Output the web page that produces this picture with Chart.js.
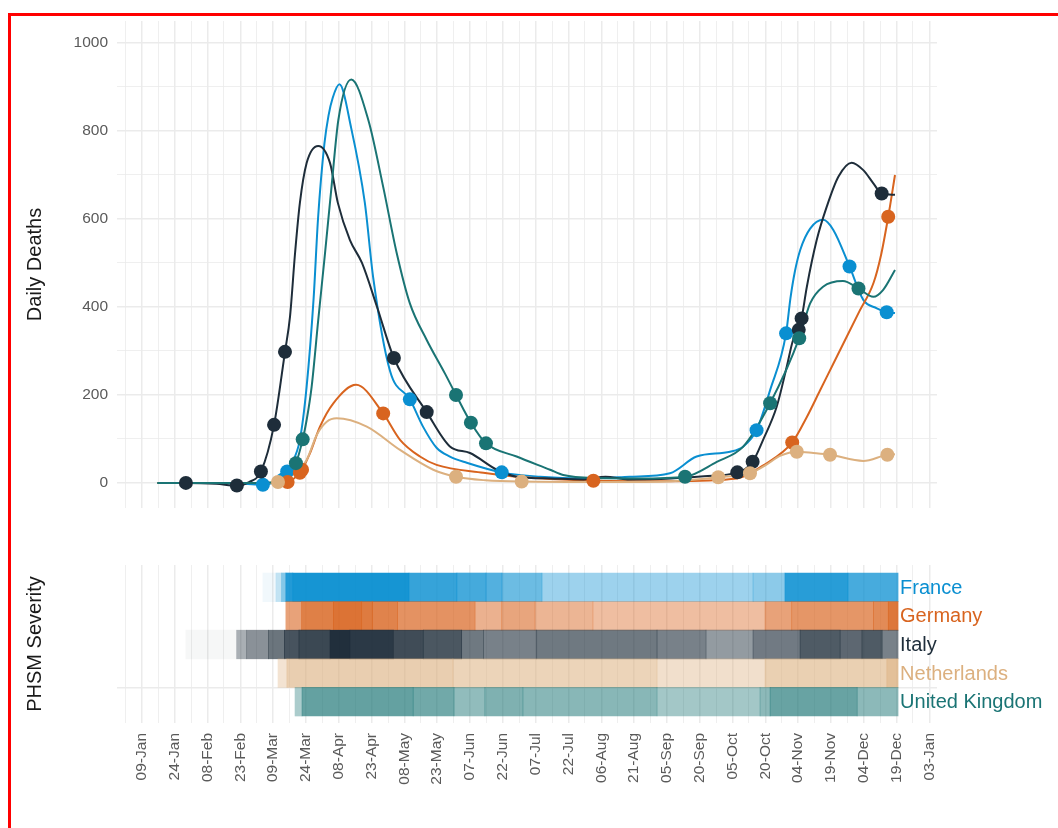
<!DOCTYPE html>
<html>
<head>
<meta charset="utf-8">
<script src="https://cdn.jsdelivr.net/npm/chart.js@4.4.0/dist/chart.umd.min.js"></script>
<style>
    body { margin: 0; background: #fff; overflow: hidden; }
    #frame { position: absolute; left: 8px; top: 13px; width: 1200px; height: 1000px; border: 3px solid #ff0000; box-sizing: border-box; }
    canvas { position: absolute; left: 0; }
</style>
</head>
<body>
<div id="frame"></div>
<canvas id="deathsChart" width="1058" height="540" style="top:0"></canvas>
<canvas id="phsmChart" width="1058" height="288" style="top:540px"></canvas>
<script>
// days are counted from 01-Jan-2020 (= day 0)
const countries = ['France', 'Germany', 'Italy', 'Netherlands', 'United Kingdom'];
const countryColors = ['#0a8fd1', '#d8641f', '#1e2d3a', '#dcb07f', '#1a7474'];
const rowValues = [5, 4, 3, 2, 1];

const tickLabels = ['09-Jan', '24-Jan', '08-Feb', '23-Feb', '09-Mar', '24-Mar', '08-Apr', '23-Apr',
    '08-May', '23-May', '07-Jun', '22-Jun', '07-Jul', '22-Jul', '06-Aug', '21-Aug', '05-Sep',
    '20-Sep', '05-Oct', '20-Oct', '04-Nov', '19-Nov', '04-Dec', '19-Dec', '03-Jan'];
const tickDays = tickLabels.map((l, i) => 8 + 15 * i);
const deathTicks = [0, 100, 200, 300, 400, 500, 600, 700, 800, 900, 1000];

// smoothed daily deaths
const franceDays = [15, 40, 55, 63.3, 68, 72.5, 74.4, 76, 80.2, 83.3, 86.5, 88.5, 91.4, 93.3, 95.2, 98.3, 103.7, 109.9, 113.7, 121.4, 130.5, 136.5, 142.7, 148.8, 156.5, 172.5, 190, 210, 231, 249.4, 261.6, 276.9, 283, 289, 295.2, 302.5, 304.5, 306.5, 309, 313.5, 319.5, 324.1, 331.5, 337.8, 344, 348.5, 352.3];
const franceDeaths = [0, 0, -2, -4, 0, 8, 26, 40, 98, 219, 420, 600, 770, 835, 875, 906, 806, 637, 468, 255, 190, 128, 80, 60, 46, 24, 14, 10, 14, 22, 60, 71, 83, 120, 211, 340, 420, 480, 530, 578, 598, 575, 492, 416, 397, 388, 386];

const germanyDays = [15, 65, 74.6, 80.2, 81.2, 84.8, 89.4, 95.5, 105.9, 118.3, 126, 135.1, 142.7, 164.1, 179.3, 214.4, 250, 280, 292.1, 305.3, 312, 318, 324.2, 330, 336, 342.5, 346, 349.2, 352.3];
const germanyDeaths = [0, 0, 2, 23, 30, 67, 128, 181, 223, 158, 98, 60, 41, 23, 14, 5, 4, 10, 40, 92, 150, 210, 272, 330, 390, 455, 520, 605, 700];

const italyDays = [15, 28.1, 42, 51.4, 57, 62.4, 68.4, 73.4, 75.7, 78, 80.2, 83.3, 88.6, 94, 97.6, 103.1, 108.6, 115.5, 123.2, 138.2, 148.8, 158, 170.3, 179.5, 195, 210, 220, 230, 250, 265, 280.2, 287.2, 292, 298.2, 302.8, 305.7, 308.3, 309.6, 312, 316.5, 321.1, 326.4, 332.5, 337.8, 342.4, 346.2, 352.3];
const italyDeaths = [0, 0, -2, -6, 2, 26, 132, 298, 378, 522, 636, 727, 766, 727, 636, 552, 500, 400, 284, 161, 83, 68, 30, 14, 10, 8, 14, 8, 10, 15, 24, 48, 98, 173, 264, 325, 348, 374, 446, 552, 628, 696, 728, 711, 681, 658, 655];

const netherlandsDays = [15, 62, 70.2, 76, 83.3, 87.9, 92.5, 97, 110.8, 126, 141.2, 151.6, 165, 181.6, 220, 250, 271.5, 286, 293, 300, 307.4, 315, 322.6, 337.8, 348.8, 352.3];
const netherlandsDeaths = [0, 0, 2, 15, 52, 109, 139, 147, 128, 75, 30, 14, 6, 3, 2, 4, 13, 22, 40, 62, 71, 68, 64, 50, 64, 65];

const ukDays = [15, 60, 72, 78.4, 81.5, 83.3, 85.6, 88.6, 91.7, 94.7, 97.8, 103.7, 111.5, 118.3, 124.5, 130.5, 138.2, 146.5, 151.6, 158.4, 165.3, 179.3, 194.6, 200.6, 215.9, 235, 256.3, 270.8, 283, 295.2, 308.5, 313.5, 319.4, 328.5, 335.6, 342.4, 346.9, 352.3];
const ukDeaths = [0, 0, 5, 45, 99, 143, 219, 370, 522, 674, 825, 917, 825, 673, 522, 408, 325, 249, 200, 137, 90, 60, 30, 18, 11, 10, 14, 48, 83, 181, 329, 408, 446, 459, 442, 423, 439, 484];

// dates where the PHSM level changed (dots)
const francePointDays = [63.3, 72.5, 74.4, 130.5, 172.5, 289, 302.5, 331.5, 348.5];
const francePointDeaths = [-4, 8, 26, 190, 24, 120, 340, 492, 388];
const germanyPointDays = [74.6, 80.2, 81.2, 118.3, 214.4, 305.3, 349.2];
const germanyPointDeaths = [2, 23, 30, 158, 5, 92, 605];
const italyPointDays = [28.1, 51.4, 62.4, 68.4, 73.4, 123.2, 138.2, 280.2, 287.2, 308.3, 309.6, 346.2];
const italyPointDeaths = [0, -6, 26, 132, 298, 284, 161, 24, 48, 348, 374, 658];
const netherlandsPointDays = [70.2, 151.6, 181.6, 271.5, 286, 307.4, 322.6, 348.8];
const netherlandsPointDeaths = [2, 14, 3, 13, 22, 71, 64, 64];
const ukPointDays = [78.4, 81.5, 151.6, 158.4, 165.3, 256.3, 295.2, 308.5, 335.6];
const ukPointDeaths = [45, 99, 200, 137, 90, 14, 181, 329, 442];

// PHSM severity (0..1), each value holds from its start day to the next one
const phsmEnd = 353.7;
const franceSevStart = [63.3, 69.3, 71.9, 73.8, 77, 130.1, 152, 165.3, 172.6, 190.9, 287.4, 302, 330.8];
const franceSeverity = [0.06, 0.25, 0.5, 0.9, 0.95, 0.82, 0.76, 0.7, 0.6, 0.4, 0.47, 0.88, 0.75];
const germanySevStart = [73.8, 81, 95.5, 108.5, 113.5, 124.9, 160.3, 172.5, 187.7, 214.2, 292.9, 305.1, 342.4, 349.2];
const germanySeverity = [0.6, 0.82, 0.9, 0.85, 0.8, 0.7, 0.5, 0.58, 0.48, 0.42, 0.6, 0.68, 0.75, 0.88];
const italySevStart = [28.1, 51.3, 55.9, 65.8, 73.1, 79.8, 94, 103.1, 122.9, 136.6, 154.2, 164.1, 188.5, 243.5, 265.9, 287.4, 308.9, 327.2, 337.2, 346.4];
const italySeverity = [0.04, 0.38, 0.52, 0.66, 0.82, 0.87, 0.99, 0.94, 0.85, 0.8, 0.64, 0.6, 0.64, 0.6, 0.48, 0.63, 0.78, 0.72, 0.78, 0.6];
const netherlandsSevStart = [70.2, 74.3, 150.2, 243.5, 292.9, 348.6];
const netherlandsSeverity = [0.35, 0.62, 0.55, 0.4, 0.6, 0.8];
const ukSevStart = [78, 81.2, 132, 150.7, 164.8, 182.2, 243.5, 290.6, 295.2, 335];
const ukSeverity = [0.37, 0.68, 0.62, 0.48, 0.56, 0.52, 0.4, 0.5, 0.66, 0.5];

const xMin = -3.4, xMax = 371.5;
const gridDays = [];
for (let d = 0.5; d <= 368; d += 7.5) gridDays.push(d);

Chart.defaults.font.family = '"Liberation Sans", Arial, sans-serif';
Chart.defaults.animation = false;

function isMajor(v) {
    return tickDays.indexOf(v) >= 0;
}

function rgba(hex, a) {
    const n = parseInt(hex.slice(1), 16);
    return `rgba(${(n >> 16) & 255}, ${(n >> 8) & 255}, ${n & 255}, ${a})`;
}

function toXY(days, values) {
    return days.map((d, i) => ({ x: d, y: values[i] }));
}

const xGrid = {
    color: '#ebebeb',
    lineWidth: c => (c.tick && isMajor(c.tick.value)) ? 1.5 : 0.8,
    drawTicks: false
};

// ---------- top panel: daily deaths ----------
const lineSeries = [
    [franceDays, franceDeaths, francePointDays, francePointDeaths],
    [germanyDays, germanyDeaths, germanyPointDays, germanyPointDeaths],
    [italyDays, italyDeaths, italyPointDays, italyPointDeaths],
    [netherlandsDays, netherlandsDeaths, netherlandsPointDays, netherlandsPointDeaths],
    [ukDays, ukDeaths, ukPointDays, ukPointDeaths]
];

const deathDatasets = [];
lineSeries.forEach((s, i) => {
    deathDatasets.push({
        type: 'line',
        label: countries[i],
        data: toXY(s[0], s[1]),
        borderColor: countryColors[i],
        borderWidth: 2,
        pointRadius: 0,
        cubicInterpolationMode: 'monotone',
        fill: false,
        order: 20 - i
    });
    deathDatasets.push({
        type: 'line',
        label: countries[i] + ' PHSM',
        data: toXY(s[2], s[3]),
        showLine: false,
        pointRadius: 7,
        pointBorderWidth: 0,
        pointBackgroundColor: countryColors[i],
        order: 10 - i
    });
});

new Chart(document.getElementById('deathsChart'), {
    type: 'line',
    data: { datasets: deathDatasets },
    options: {
        responsive: false,
        events: [],
        layout: { padding: { top: 21, right: 121, bottom: 32, left: 0 } },
        plugins: { legend: { display: false }, tooltip: { enabled: false } },
        scales: {
            x: {
                type: 'linear', min: xMin, max: xMax,
                afterBuildTicks: s => { s.ticks = gridDays.map(v => ({ value: v })); },
                ticks: { display: false },
                grid: xGrid,
                border: { display: false },
                afterFit: s => { s.height = 0; }
            },
            y: {
                type: 'linear', min: -57, max: 1050,
                afterBuildTicks: s => { s.ticks = deathTicks.map(v => ({ value: v })); },
                ticks: {
                    callback: v => v % 200 === 0 ? String(v) : '',
                    color: '#5a5a5a',
                    font: { size: 15.5 },
                    padding: 9
                },
                grid: {
                    color: '#ebebeb',
                    lineWidth: c => (c.tick && c.tick.value % 200 === 0) ? 1.5 : 0.8,
                    drawTicks: false
                },
                border: { display: false },
                title: {
                    display: true, text: 'Daily Deaths', color: '#1a1a1a',
                    font: { size: 20 }, padding: { top: 23, bottom: 0 }
                },
                afterFit: s => { s.width = 117; }
            }
        }
    }
});

// ---------- bottom panel: PHSM severity ----------
const sevSeries = [
    [franceSevStart, franceSeverity],
    [germanySevStart, germanySeverity],
    [italySevStart, italySeverity],
    [netherlandsSevStart, netherlandsSeverity],
    [ukSevStart, ukSeverity]
];

const tiles = [];
const tileColors = [];
sevSeries.forEach((s, i) => {
    s[0].forEach((start, j) => {
        const end = j + 1 < s[0].length ? s[0][j + 1] : phsmEnd;
        tiles.push({ x: [start, end], y: rowValues[i] });
        tileColors.push(rgba(countryColors[i], s[1][j]));
    });
});

const countryLabels = {
    id: 'countryLabels',
    afterDatasetsDraw(chart) {
        const { ctx, scales: { x, y } } = chart;
        ctx.save();
        ctx.font = '20px "Liberation Sans", Arial, sans-serif';
        ctx.textBaseline = 'middle';
        ctx.textAlign = 'left';
        countries.forEach((name, i) => {
            ctx.fillStyle = countryColors[i];
            ctx.fillText(name, x.getPixelForValue(phsmEnd) + 2, y.getPixelForValue(rowValues[i]) + 1);
        });
        ctx.restore();
    }
};

new Chart(document.getElementById('phsmChart'), {
    type: 'bar',
    data: {
        datasets: [{
            data: tiles,
            backgroundColor: tileColors,
            borderWidth: 0,
            grouped: false,
            barPercentage: 1,
            categoryPercentage: 1
        }]
    },
    plugins: [countryLabels],
    options: {
        responsive: false,
        events: [],
        indexAxis: 'y',
        layout: { padding: { top: 25, right: 121, bottom: 0, left: 0 } },
        plugins: { legend: { display: false }, tooltip: { enabled: false } },
        scales: {
            x: {
                type: 'linear', min: xMin, max: xMax,
                afterBuildTicks: s => { s.ticks = gridDays.map(v => ({ value: v })); },
                ticks: {
                    callback: v => { const i = tickDays.indexOf(v); return i >= 0 ? tickLabels[i] : ''; },
                    autoSkip: false, minRotation: 90, maxRotation: 90,
                    color: '#5a5a5a', font: { size: 15.5 }, padding: 10
                },
                grid: xGrid,
                border: { display: false },
                afterFit: s => { s.height = 105; }
            },
            y: {
                type: 'linear', min: 0.255, max: 5.78, offset: false,
                afterBuildTicks: s => { s.ticks = [{ value: 1.5 }]; },
                ticks: { display: false },
                grid: { color: '#ebebeb', lineWidth: 1.5, drawTicks: false, offset: false },
                border: { display: false },
                title: {
                    display: true, text: 'PHSM Severity', color: '#1a1a1a',
                    font: { size: 20 }, padding: { top: 23, bottom: 0 }
                },
                afterFit: s => { s.width = 117; }
            }
        }
    }
});
</script>
</body>
</html>
